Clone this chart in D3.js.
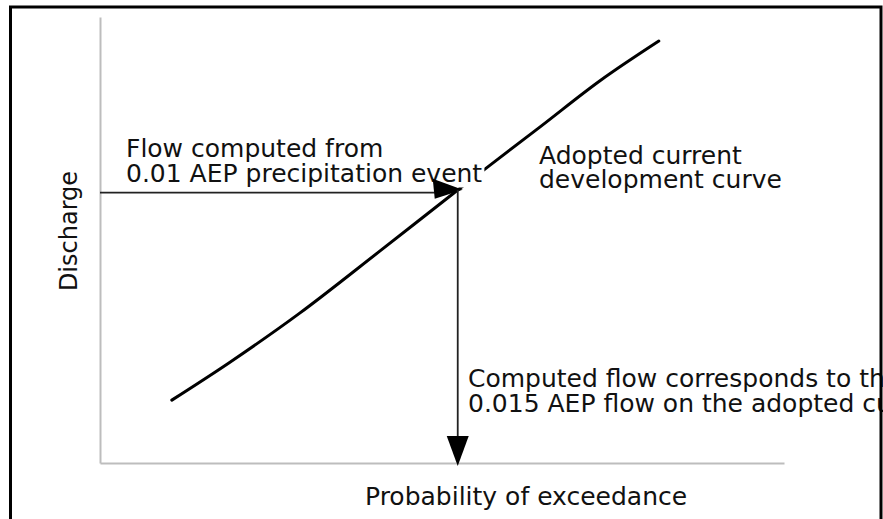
<!DOCTYPE html>
<html>
<head>
<meta charset="utf-8">
<script src="https://cdn.jsdelivr.net/npm/d3@7"></script>
<style>
  html, body { margin: 0; padding: 0; background: #fff; overflow: hidden; }
  svg { display: block; }
  text { font-family: "DejaVu Sans", sans-serif; font-size: 25px; fill: #111; }
</style>
</head>
<body>
<div id="chart"></div>
<script>
// Adopted current development curve (probability-of-exceedance index vs discharge, arbitrary units)
const curveProb      = [10.5, 19.0, 29.2, 40.9, 52.3, 64.3, 73.1, 81.7];
const curveDischarge = [14.1, 22.6, 33.6, 47.5, 61.2, 75.3, 85.7, 94.6];

// Flow computed from the 0.01 AEP precipitation event, read onto the curve
const eventProb = [52.3];
const eventDischarge = [60.6];

const axisTitles = ["Probability of exceedance", "Discharge"];
const noteFlow = ["Flow computed from", "0.01 AEP precipitation event"];
const noteCurve = ["Adopted current", "development curve"];
const noteResult = ["Computed flow corresponds to the", "0.015 AEP flow on the adopted curve"];

const W = 883, H = 519;
const svg = d3.select("#chart").append("svg").attr("width", W).attr("height", H);

const x = d3.scaleLinear().domain([0, 100]).range([100, 784]);
const y = d3.scaleLinear().domain([0, 100]).range([463, 17]);

// Axes (no ticks)
svg.append("g").attr("transform", `translate(0,${y(0)})`)
  .call(d3.axisBottom(x).ticks(0).tickSizeOuter(0));
svg.append("g").attr("transform", `translate(${x(0)},0)`)
  .call(d3.axisLeft(y).ticks(0).tickSizeOuter(0));
svg.selectAll(".domain").attr("stroke", "#bdbdbd").attr("stroke-width", 2);

// Curve
const pts = curveProb.map((p, i) => [p, curveDischarge[i]]);
svg.append("path")
  .datum(pts)
  .attr("fill", "none")
  .attr("stroke", "#000")
  .attr("stroke-width", 3)
  .attr("stroke-linecap", "round")
  .attr("d", d3.line().x(d => x(d[0])).y(d => y(d[1])).curve(d3.curveCatmullRom.alpha(0.5)));

// Annotation texts
function block(lines, px, py, lh, withBg) {
  const g = svg.append("g");
  lines.forEach((t, i) => {
    const tx = g.append("text").attr("x", px).attr("y", py + i * lh).text(t);
    if (withBg && i === lines.length - 1) {
      const bb = tx.node().getBBox();
      g.insert("rect", "text")
        .attr("x", bb.x).attr("y", bb.y + 4)
        .attr("width", bb.width + 2).attr("height", bb.height - 4)
        .attr("fill", "#fff");
    }
  });
  return g;
}
block(noteFlow, 126, 157, 24.5, true);
block(noteCurve, 539, 164, 24, false);
block(noteResult, 468, 387, 25, false);

// Arrows
const ex = x(eventProb[0]), ey = y(eventDischarge[0]);
const tipX = ex + 5;
svg.append("line").attr("x1", x(0)).attr("y1", ey).attr("x2", tipX - 28).attr("y2", ey)
  .attr("stroke", "#222").attr("stroke-width", 1.8);
svg.append("path")
  .attr("d", `M${tipX},${ey - 3} L${tipX - 30},${ey - 14} L${tipX - 28},${ey + 6} Z`)
  .attr("fill", "#000");

const vx = ex;
const tipY = y(0) + 3;
svg.append("line").attr("x1", vx).attr("y1", y(61.2)).attr("x2", vx).attr("y2", tipY - 28)
  .attr("stroke", "#222").attr("stroke-width", 1.8);
svg.append("path")
  .attr("d", `M${vx},${tipY} L${vx - 11},${tipY - 30} L${vx + 11},${tipY - 30} Z`)
  .attr("fill", "#000");

// Axis titles
svg.append("text").attr("x", 365).attr("y", 505).text(axisTitles[0]);
svg.append("text")
  .attr("transform", "translate(77,231) rotate(-90)")
  .attr("text-anchor", "middle")
  .style("font-size", "24px")
  .text(axisTitles[1]);

// Frame
svg.append("rect")
  .attr("x", 10.5).attr("y", 7).attr("width", 870.5).attr("height", 700)
  .attr("fill", "none").attr("stroke", "#000").attr("stroke-width", 3);
</script>
</body>
</html>
